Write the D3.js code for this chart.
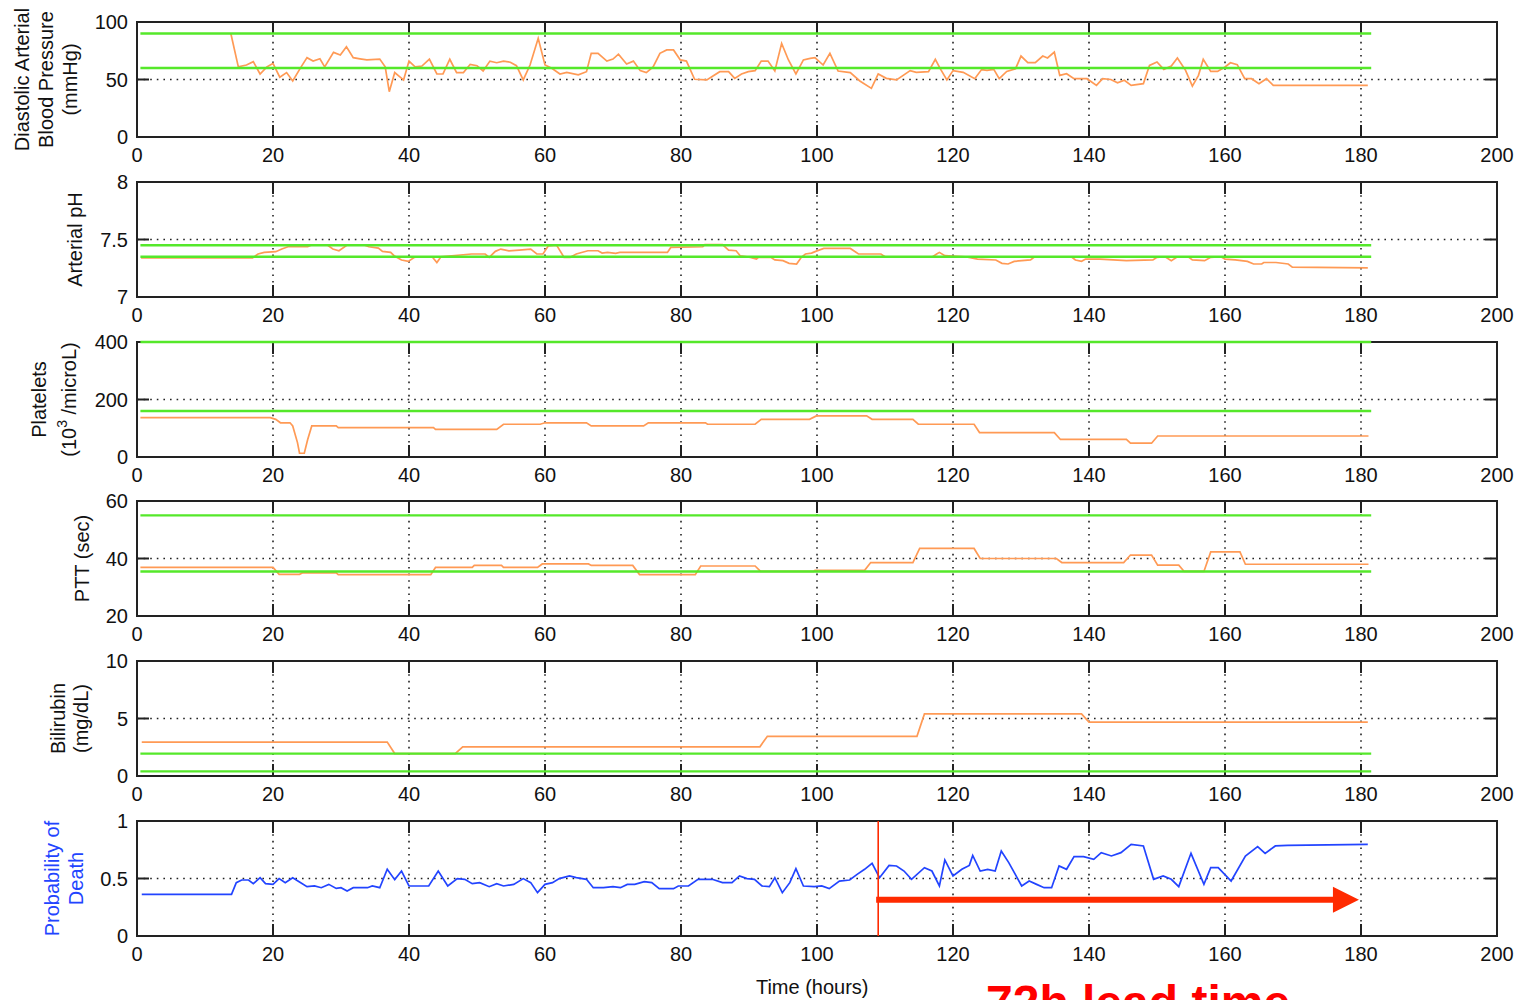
<!DOCTYPE html>
<html>
<head>
<meta charset="utf-8">
<script src="https://cdn.jsdelivr.net/npm/d3@7"></script>
<style>
  html, body { margin: 0; padding: 0; background: #fff; }
  svg { display: block; font-family: "Liberation Sans", Arial, sans-serif; }
</style>
</head>
<body>
<svg id="chart" width="1520" height="1000"></svg>
<script>
// x axis ticks (hours)
const xTicks = [0, 20, 40, 60, 80, 100, 120, 140, 160, 180, 200]

// [hour, value] readings
const bpSeries = [
  [13.8,90],[14.9,61],[16.1,62.6],[17.1,65.5],[18.1,54.8],[19.1,61],[20,64],[21,52],[22,56],[22.9,48.7],
  [24,59.7],[25,69],[25.9,66],[26.9,68],[27.6,61],[28.9,73.6],[29.9,71.3],[30.8,78.5],[31.8,69],[32.8,68],
  [33.8,67],[35.7,67.8],[36.5,61],[37.1,39.4],[37.9,56],[38.7,52],[39.2,49.6],[40,66],[40.9,61],[41.9,61.7],
  [43,67.8],[44.1,54.8],[45,54.8],[46,67.6],[47,56],[48,56],[49,63.2],[50,62],[50.9,57.4],[51.9,66],
  [52.9,64.6],[53.9,66],[54.9,65],[55.8,62],[56.8,49.6],[57.8,62.6],[59,85.8],[60,62.6],[61,59.7],[62.2,54.8],
  [63.2,56.2],[64.9,54],[66.1,56.8],[66.8,72.8],[67.8,72.8],[69.1,66],[70,67.8],[70.8,72],[72,63.5],[73,66],
  [74,57.7],[74.9,56],[75.9,61],[76.9,72.8],[77.9,75.7],[78.9,75.7],[79.9,67],[80.8,66],[82,50.2],[83.8,49.6],
  [84.7,53],[85.7,56.8],[87,56.8],[87.9,51],[88.9,54.8],[89.9,56.8],[90.9,57.7],[91.8,66],[92.8,66],[93.8,57.4],
  [94.8,81.4],[95.8,67],[96.9,54.8],[98,67],[99,68.4],[99.7,69],[100.9,62.6],[101.9,72.8],[103.1,57.4],[104.9,56],
  [106.3,48.7],[108,42.3],[109,54.8],[110.2,51],[111.7,49.6],[113.7,57.7],[114.6,56.2],[116.4,56.8],[117.4,67.6],[118.1,59.7],
  [119.1,49.6],[120,57.7],[121.5,56.2],[123.2,50.7],[124.2,58.6],[125,58],[126,58.8],[126.8,50.7],[127.9,57],[129.2,59.4],
  [130,70.4],[131,64.6],[132.1,64.6],[133.2,70.4],[133.9,68.7],[134.9,73.9],[135.7,53.6],[136.7,55],[137.8,50.7],[139.7,50.7],
  [141.1,44.9],[142,50.7],[143.2,50],[144.2,47.2],[145.2,49.3],[146.2,44.9],[148,46.4],[148.9,62.3],[150,65.2],[151,58.8],
  [152.1,61.7],[153,68.7],[154.2,58],[155.2,44.3],[156.1,53.6],[156.8,67.5],[157.9,57],[158.9,57],[160,60.9],[160.8,64.6],
  [161.8,62.9],[162.9,50.7],[163.9,50.7],[165,46.4],[166.1,50.7],[167.1,44.9],[181,44.9]
]
const phSeries = [
  [0.6,7.34],[14.3,7.34],[15.6,7.34],[17,7.34],[17.8,7.374],[18.7,7.388],[20.4,7.394],[21.3,7.417],[22.2,7.437],[25.1,7.437],
  [25.6,7.451],[28,7.451],[28.8,7.417],[29.7,7.402],[30.9,7.451],[33.5,7.451],[34.1,7.437],[35.5,7.425],[36.1,7.397],[37.3,7.388],
  [37.8,7.359],[38.9,7.322],[39.9,7.31],[40.8,7.345],[41.3,7.35],[43.4,7.35],[44.1,7.30],[44.7,7.35],[49.2,7.374],[51.2,7.374],
  [51.8,7.345],[52.7,7.397],[53.5,7.417],[54.7,7.402],[56.2,7.408],[57.9,7.417],[58.8,7.374],[59.7,7.374],[60.5,7.445],[61.7,7.451],
  [62.8,7.345],[63.7,7.345],[64.6,7.374],[66.3,7.402],[67.8,7.402],[68.4,7.382],[69.2,7.388],[70.4,7.379],[71,7.388],[78,7.388],
  [78.5,7.431],[83.2,7.437],[83.5,7.455],[86.1,7.455],[87,7.408],[88.1,7.402],[88.7,7.359],[90.2,7.345],[91.1,7.33],[91.4,7.345],
  [93.2,7.345],[93.8,7.322],[95,7.316],[95.9,7.293],[97,7.287],[97.7,7.345],[98.3,7.374],[99.2,7.382],[99.8,7.397],[101,7.422],
  [104.9,7.422],[106.1,7.374],[109.4,7.374],[110,7.35],[117,7.35],[117.6,7.374],[118,7.388],[118.8,7.359],[121.8,7.35],[123.6,7.33],
  [126.3,7.322],[127.2,7.293],[128.1,7.287],[129,7.31],[131.4,7.322],[132,7.35],[137.4,7.35],[138,7.322],[138.9,7.31],[139.5,7.33],
  [141.6,7.33],[145.5,7.316],[149.4,7.322],[150,7.345],[151.2,7.35],[152.1,7.316],[153,7.35],[154.6,7.35],[155.2,7.322],[157,7.316],
  [157.9,7.345],[159.4,7.35],[160,7.33],[161.5,7.322],[163.3,7.31],[164.2,7.287],[165.4,7.287],[165.7,7.30],[167.5,7.30],[169.3,7.287],
  [169.9,7.259],[181,7.253]
]
const plateletSeries = [
  [0.5,137],[19.6,137],[20.4,131],[21.1,119],[22.5,119],[22.9,108],[23.6,50],[23.9,13],[24.6,13],[25.1,61],
  [25.7,108],[29.3,108],[29.6,102],[43.6,102],[43.9,96],[52.9,96],[53.9,114],[59.3,114],[60,119],[66.1,119],
  [66.8,108],[74.5,108],[75.2,119],[83.6,119],[83.9,114],[90.9,114],[91.8,131],[98.9,131],[99.9,143],[107.3,143],
  [108.1,131],[114.1,131],[114.9,114],[123.1,114],[123.9,85],[134.9,85],[135.8,61],[145.5,61],[146.1,48],[149.2,48],
  [150.1,73],[181.1,73]
]
const pttSeries = [
  [0.5,36.9],[20,36.9],[20.9,34.5],[23.9,34.5],[24.3,35],[29.3,35],[29.6,34.4],[43.2,34.4],[43.9,36.9],[49.3,36.9],
  [49.6,37.6],[53.6,37.6],[53.9,36.9],[58.9,36.9],[59.6,38.1],[66.4,38.1],[66.8,37.6],[72.9,37.6],[73.9,34.4],[82.1,34.4],
  [82.9,37.4],[90.9,37.4],[91.7,35.5],[99.5,35.5],[99.7,35.9],[107,35.9],[107.9,38.6],[114.1,38.6],[115.1,43.5],[123.1,43.5],
  [124,40],[135.2,40],[136,38.6],[145.1,38.6],[146.1,41.2],[149.2,41.2],[150.1,37.7],[153.2,37.7],[154,35.5],[156.9,35.5],
  [157.9,42.3],[162.2,42.3],[163,38],[181.1,38]
]
const bilirubinSeries = [
  [0.7,2.95],[36.8,2.95],[37.9,1.95],[46.8,1.95],[47.9,2.54],[91.6,2.54],[92.7,3.45],[114.7,3.45],[115.8,5.4],[138.9,5.4],
  [140,4.68],[181,4.68]
]
const deathSeries = [
  [0.7,0.362],[13.9,0.362],[14.6,0.464],[15.4,0.487],[16.4,0.487],[17.1,0.455],[18.1,0.507],[18.9,0.455],[20,0.449],[20.9,0.499],
  [21.8,0.464],[22.9,0.507],[23.9,0.47],[25,0.429],[26.1,0.435],[27.1,0.42],[28.2,0.449],[29.3,0.414],[30,0.42],[30.9,0.391],
  [31.8,0.42],[33.9,0.42],[34.6,0.435],[35.7,0.42],[36.8,0.58],[37.9,0.49],[38.9,0.565],[40,0.435],[41.4,0.435],[42.9,0.435],
  [44.3,0.565],[45.7,0.435],[47.1,0.499],[48.2,0.493],[49.3,0.455],[50.4,0.464],[51.8,0.429],[52.9,0.455],[53.9,0.435],[55.4,0.449],
  [56.8,0.499],[57.9,0.464],[58.9,0.377],[60,0.449],[61.1,0.464],[62.1,0.499],[63.6,0.522],[64.6,0.507],[66.1,0.493],[67.1,0.42],
  [68.6,0.42],[70,0.429],[71.1,0.42],[72.1,0.449],[73.2,0.449],[74.6,0.472],[75.7,0.464],[76.8,0.412],[78.9,0.412],[79.6,0.435],
  [81.1,0.435],[82.5,0.493],[84.6,0.493],[86.1,0.464],[87.5,0.464],[88.6,0.522],[89.7,0.499],[90.8,0.493],[91.9,0.435],[93,0.429],
  [93.8,0.507],[94.9,0.377],[96,0.464],[96.9,0.585],[98,0.435],[99.6,0.429],[100.7,0.435],[101.8,0.412],[103.3,0.478],[104.8,0.487],
  [105.9,0.536],[107,0.58],[108.1,0.632],[109.2,0.507],[110.6,0.614],[111.7,0.609],[112.8,0.565],[113.9,0.493],[115.8,0.594],[116.9,0.565],
  [118,0.435],[118.8,0.661],[120,0.522],[121.3,0.58],[122.4,0.614],[122.9,0.701],[124,0.565],[125.1,0.58],[126.2,0.565],[127.1,0.739],
  [128.2,0.638],[130.1,0.435],[131.2,0.478],[132.3,0.449],[133.4,0.42],[134.5,0.42],[135.6,0.609],[136.7,0.58],[137.8,0.69],[139.2,0.69],
  [140.7,0.667],[141.8,0.725],[143.3,0.696],[144.7,0.725],[146.2,0.797],[148,0.783],[149.5,0.493],[150.9,0.522],[152.1,0.493],[153.2,0.429],
  [155,0.719],[156.9,0.449],[157.9,0.594],[159,0.594],[160.9,0.478],[163,0.696],[164.8,0.777],[165.9,0.719],[167.4,0.783],[169.2,0.788],
  [181,0.797]
]

// normal ranges (green lines)
const bpRange = [60, 90]
const phRange = [7.35, 7.45]
const plateletRange = [160, 400]
const pttRange = [35.5, 55]
const bilirubinRange = [0.4, 1.95]
const rangeHours = [0.5, 181.5]

// alarm annotation
const alarmHour = 109
const leadArrow = { from: 108.7, to: 179.7, value: 0.315 }

const W = 1520, H = 1000
const LEFT = 137, RIGHT = 1497
const PANEL_H = 115
const ORANGE = "#ff9a55", GREEN = "#55e82a", BLUE = "#2244ff", RED = "#ff2a00"

const panels = [
  { top: 22, domain: [0, 100], ticks: [0, 50, 100], series: bpSeries, range: bpRange, color: ORANGE,
    label: [{ t: "Diastolic Arterial", x: 22 }, { t: "Blood Pressure", x: 46 }, { t: "(mmHg)", x: 70 }] },
  { top: 182, domain: [7, 8], ticks: [7, 7.5, 8], series: phSeries, range: phRange, color: ORANGE,
    label: [{ t: "Arterial pH", x: 75 }] },
  { top: 342, domain: [0, 400], ticks: [0, 200, 400], series: plateletSeries, range: plateletRange, color: ORANGE,
    label: [{ t: "Platelets", x: 39 }, { t: "(10", sup: "3", rest: " /microL)", x: 69 }] },
  { top: 501, domain: [20, 60], ticks: [20, 40, 60], series: pttSeries, range: pttRange, color: ORANGE,
    label: [{ t: "PTT (sec)", x: 82 }] },
  { top: 661, domain: [0, 10], ticks: [0, 5, 10], series: bilirubinSeries, range: bilirubinRange, color: ORANGE,
    label: [{ t: "Bilirubin", x: 58 }, { t: "(mg/dL)", x: 81 }] },
  { top: 821, domain: [0, 1], ticks: [0, 0.5, 1], series: deathSeries, range: null, color: BLUE, labelColor: BLUE,
    label: [{ t: "Probability of", x: 52 }, { t: "Death", x: 76 }] },
]

const svg = d3.select("#chart")
const x = d3.scaleLinear().domain([0, 200]).range([LEFT, RIGHT])
const TICK = 12

panels.forEach((p) => {
  const y = d3.scaleLinear().domain(p.domain).range([p.top + PANEL_H, p.top])
  const g = svg.append("g")

  // dotted grid
  g.selectAll(".vgrid").data(xTicks).enter().append("line")
    .attr("x1", (d) => x(d)).attr("x2", (d) => x(d))
    .attr("y1", p.top).attr("y2", p.top + PANEL_H)
    .attr("stroke", "#222").attr("stroke-width", 1.6).attr("stroke-dasharray", "1.6,5")
  g.selectAll(".hgrid").data(p.ticks).enter().append("line")
    .attr("x1", LEFT).attr("x2", RIGHT)
    .attr("y1", (d) => y(d)).attr("y2", (d) => y(d))
    .attr("stroke", "#222").attr("stroke-width", 1.6).attr("stroke-dasharray", "1.6,5")

  // box
  g.append("rect").attr("x", LEFT).attr("y", p.top).attr("width", RIGHT - LEFT).attr("height", PANEL_H)
    .attr("fill", "none").attr("stroke", "#222").attr("stroke-width", 2)

  // inward ticks on all four sides
  xTicks.forEach((t) => {
    g.append("line").attr("x1", x(t)).attr("x2", x(t)).attr("y1", p.top + PANEL_H).attr("y2", p.top + PANEL_H - TICK)
      .attr("stroke", "#222").attr("stroke-width", 2)
    g.append("line").attr("x1", x(t)).attr("x2", x(t)).attr("y1", p.top).attr("y2", p.top + TICK)
      .attr("stroke", "#222").attr("stroke-width", 2)
  })
  p.ticks.forEach((t) => {
    g.append("line").attr("x1", LEFT).attr("x2", LEFT + TICK).attr("y1", y(t)).attr("y2", y(t))
      .attr("stroke", "#222").attr("stroke-width", 2)
    g.append("line").attr("x1", RIGHT).attr("x2", RIGHT - TICK).attr("y1", y(t)).attr("y2", y(t))
      .attr("stroke", "#222").attr("stroke-width", 2)
  })

  // tick labels
  g.selectAll(".xl").data(xTicks).enter().append("text")
    .attr("x", (d) => x(d)).attr("y", p.top + PANEL_H + 25)
    .attr("text-anchor", "middle").attr("font-size", 20).attr("fill", "#111")
    .text((d) => d)
  g.selectAll(".yl").data(p.ticks).enter().append("text")
    .attr("x", LEFT - 9).attr("y", (d) => y(d) + 7)
    .attr("text-anchor", "end").attr("font-size", 20).attr("fill", "#111")
    .text((d) => d)

  // data line (under the range lines)
  const line = d3.line().x((d) => x(d[0])).y((d) => y(d[1]))
  g.append("path").datum(p.series).attr("d", line)
    .attr("fill", "none").attr("stroke", p.color).attr("stroke-width", 1.7)

  // normal range lines
  if (p.range) {
    p.range.forEach((v) => {
      g.append("line").attr("x1", x(rangeHours[0])).attr("x2", x(rangeHours[1]))
        .attr("y1", y(v)).attr("y2", y(v))
        .attr("stroke", GREEN).attr("stroke-width", 2.4)
    })
  }

  // y axis label, rotated
  const cy = p.top + PANEL_H / 2
  p.label.forEach((l) => {
    const txt = g.append("text")
      .attr("transform", `translate(${l.x + 7},${cy}) rotate(-90)`)
      .attr("text-anchor", "middle").attr("font-size", 20)
      .attr("fill", p.labelColor || "#111")
    txt.append("tspan").text(l.t)
    if (l.sup) {
      txt.append("tspan").attr("dy", -9).attr("font-size", 14).text(l.sup)
      txt.append("tspan").attr("dy", 9).text(l.rest)
    }
  })

  // alarm annotation on the last panel
  if (p.range === null) {
    g.append("line").attr("x1", x(alarmHour)).attr("x2", x(alarmHour))
      .attr("y1", p.top).attr("y2", p.top + PANEL_H)
      .attr("stroke", RED).attr("stroke-width", 1.6)
    const ay = y(leadArrow.value)
    const headLen = 26
    g.append("line").attr("x1", x(leadArrow.from)).attr("x2", x(leadArrow.to) - headLen + 2)
      .attr("y1", ay).attr("y2", ay)
      .attr("stroke", RED).attr("stroke-width", 6)
    const tip = x(leadArrow.to)
    g.append("path")
      .attr("d", `M${tip},${ay} L${tip - headLen},${ay - 13} L${tip - headLen},${ay + 13} Z`)
      .attr("fill", RED)
  }
})

// x axis title
svg.append("text").attr("x", x(99.3)).attr("y", 994)
  .attr("text-anchor", "middle").attr("font-size", 20).attr("fill", "#111")
  .text("Time (hours)")

svg.append("text").attr("x", 986).attr("y", 1019)
  .attr("font-size", 48).attr("font-weight", "bold").attr("fill", "#ff0000")
  .text("72h lead time")
</script>
</body>
</html>
